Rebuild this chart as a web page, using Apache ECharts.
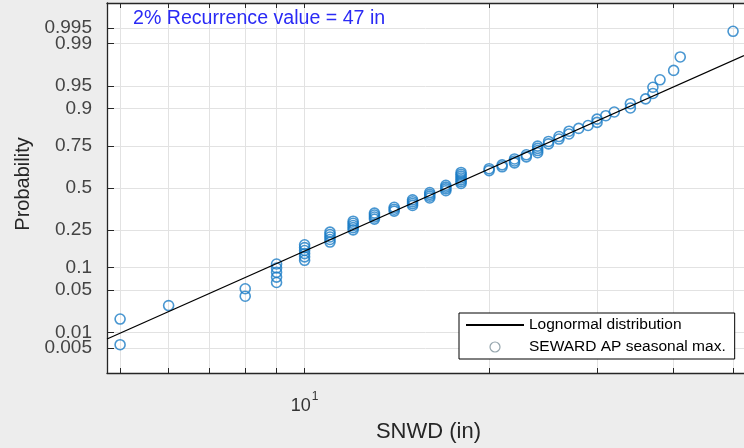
<!DOCTYPE html>
<html>
<head>
<meta charset="utf-8">
<script src="https://cdn.jsdelivr.net/npm/echarts@6/dist/echarts.min.js"></script>
<style>html,body{margin:0;padding:0;background:#ededed;}#c{width:744px;height:448px;}</style>
</head>
<body>
<div id="c"></div>
<script>
// ---- data ----
const snwd = [5,5,6,8,8, 9,9,9,9,9, 10,10,10,10,10,10, 11,11,11,11,11, 12,12,12,12,12,
  13,13,13,13, 14,14,14, 15,15,15,15, 16,16,16,16, 17,17,17,17, 18,18,18,18,18,18,18,
  20,20, 21,21, 22,22,22, 23,23, 24,24,24,24, 25,25, 26,26, 27,27, 28, 29, 30,30, 31, 32,
  34,34, 36, 37,37, 38, 40, 41, 50];
const prob = [0.0058,0.0174,0.0291,0.0407,0.0523,0.0640,0.0756,0.0872,0.0988,0.1105,
  0.1221,0.1337,0.1453,0.1570,0.1686,0.1802,0.1919,0.2035,0.2151,0.2267,
  0.2384,0.2500,0.2616,0.2733,0.2849,0.2965,0.3081,0.3198,0.3314,0.3430,
  0.3547,0.3663,0.3779,0.3895,0.4012,0.4128,0.4244,0.4360,0.4477,0.4593,
  0.4709,0.4826,0.4942,0.5058,0.5174,0.5291,0.5407,0.5523,0.5640,0.5756,
  0.5872,0.5988,0.6105,0.6221,0.6337,0.6453,0.6570,0.6686,0.6802,0.6919,
  0.7035,0.7151,0.7267,0.7384,0.7500,0.7616,0.7733,0.7849,0.7965,0.8081,
  0.8198,0.8314,0.8430,0.8547,0.8663,0.8779,0.8895,0.9012,0.9128,0.9244,
  0.9360,0.9477,0.9593,0.9709,0.9826,0.9942];
const fitX = [4.76, 52.1];
const fitP = [0.0075, 0.9835];
const probTicks = [0.005,0.01,0.05,0.1,0.25,0.5,0.75,0.9,0.95,0.99,0.995];
const probTickLabels = ['0.005','0.01','0.05','0.1','0.25','0.5','0.75','0.9','0.95','0.99','0.995'];
const probLabelsSetA = [0.005,0.05,0.1,0.25,0.5,0.75,0.9,0.95,0.995];
const probLabelsSetB = [0.01,0.99];
const xTicks = [5,6,7,8,9,10,20,30,40,50];
const xLabelTicks = [10];
const xRange = [4.76, 52.1];
const zRange = [-2.98, 2.98];
const titleText = '2% Recurrence value = 47 in';
const xName = 'SNWD (in)';
const yName = 'Probability';
const lineName = 'Lognormal distribution';
const dotName = 'SEWARD AP seasonal max.';

// ---- probability-scale transform (inverse normal CDF) ----
function norminv(p){
  const a=[-3.969683028665376e+01,2.209460984245205e+02,-2.759285104469687e+02,1.383577518672690e+02,-3.066479806614716e+01,2.506628277459239e+00];
  const b=[-5.447609879822406e+01,1.615858368580409e+02,-1.556989798598866e+02,6.680131188771972e+01,-1.328068155288572e+01];
  const c=[-7.784894002430293e-03,-3.223964580411365e-01,-2.400758277161838e+00,-2.549732539343734e+00,4.374664141464968e+00,2.938163982698783e+00];
  const d=[7.784695709041462e-03,3.224671290700398e-01,2.445134137142996e+00,3.754408661907416e+00];
  const pl=0.02425, ph=1-pl; let q,r;
  if(p<pl){q=Math.sqrt(-2*Math.log(p));return (((((c[0]*q+c[1])*q+c[2])*q+c[3])*q+c[4])*q+c[5])/((((d[0]*q+d[1])*q+d[2])*q+d[3])*q+1);}
  if(p<=ph){q=p-0.5;r=q*q;return (((((a[0]*r+a[1])*r+a[2])*r+a[3])*r+a[4])*r+a[5])*q/(((((b[0]*r+b[1])*r+b[2])*r+b[3])*r+b[4])*r+1);}
  q=Math.sqrt(-2*Math.log(1-p));return -(((((c[0]*q+c[1])*q+c[2])*q+c[3])*q+c[4])*q+c[5])/((((d[0]*q+d[1])*q+d[2])*q+d[3])*q+1);
}
const lg = Math.log10;
const zTicks = probTicks.map(norminv);
function yLabel(v){
  let best=0, bd=1e9;
  zTicks.forEach((z,i)=>{const dd=Math.abs(z-v); if(dd<bd){bd=dd;best=i;}});
  return probTickLabels[best];
}

const axisColor = '#262626';
const yLabelStyle = {margin:15, formatter:yLabel, hideOverlap:false,
  color:'#444', fontSize:19, fontFamily:'Liberation Sans'};
const chart = echarts.init(document.getElementById('c'), null, {renderer:'canvas'});
chart.setOption({
  backgroundColor:'#ededed',
  animation:false,
  title:{text:titleText, left:133, top:9, padding:0,
    textStyle:{color:'#2a2af5', fontSize:19.6, fontWeight:'normal', fontFamily:'Liberation Sans'}},
  grid:{left:107, right:-5, top:3, bottom:75, show:true, backgroundColor:'#ffffff', borderWidth:0},
  legend:{
    orient:'vertical', left:459, top:313, padding:[4,9,4,6], itemGap:6,
    itemWidth:58, itemHeight:10, backgroundColor:'#ffffff', borderColor:'#000000', borderWidth:1,
    textStyle:{fontSize:15.5, color:'#000', fontFamily:'Liberation Sans', lineHeight:16},
    data:[{name:lineName, itemStyle:{color:'rgba(0,0,0,0)', borderColor:'rgba(0,0,0,0)', borderWidth:0}},
          {name:dotName, itemStyle:{color:'rgba(0,0,0,0)', borderColor:'#7a8f99', borderWidth:1.2}}]
  },
  xAxis:[{
    type:'value', min:lg(xRange[0]), max:lg(xRange[1]),
    name:xName, nameLocation:'middle', nameGap:48,
    nameTextStyle:{fontSize:22, color:'#262626', fontFamily:'Liberation Sans', padding:[0,0,0,6]},
    axisLine:{show:true, onZero:false, lineStyle:{color:axisColor, width:1.3}},
    axisTick:{show:true, inside:true, length:5, customValues:xTicks.map(lg), lineStyle:{color:axisColor}},
    axisLabel:{show:true, customValues:xLabelTicks.map(lg), margin:18, hideOverlap:false,
      formatter:(v)=>'{b|10}{s|' + Math.round(v) + '}',
      rich:{b:{fontSize:18, color:'#333', fontFamily:'Liberation Sans', verticalAlign:'bottom'},
            s:{fontSize:12, color:'#333', fontFamily:'Liberation Sans', verticalAlign:'bottom', padding:[0,0,12,1]}}},
    splitLine:{show:true, lineStyle:{color:'#e2e2e2', width:1}}
  },{
    type:'value', position:'top', min:lg(xRange[0]), max:lg(xRange[1]),
    axisLine:{show:true, onZero:false, lineStyle:{color:axisColor, width:1.3}},
    axisTick:{show:true, inside:true, length:5, customValues:xTicks.map(lg), lineStyle:{color:axisColor}},
    axisLabel:{show:false}, splitLine:{show:false}
  }],
  yAxis:[{
    type:'value', min:zRange[0], max:zRange[1], position:'left',
    name:yName, nameLocation:'middle', nameGap:70,
    nameTextStyle:{fontSize:20, color:'#262626', fontFamily:'Liberation Sans', padding:[0,0,0,8]},
    axisLine:{show:true, onZero:false, lineStyle:{color:axisColor, width:1.3}},
    axisTick:{show:true, inside:true, length:7, customValues:zTicks, lineStyle:{color:axisColor}},
    axisLabel:Object.assign({customValues:probLabelsSetA.map(norminv)}, yLabelStyle),
    splitLine:{show:true, lineStyle:{color:'#e2e2e2', width:1}}
  },{
    type:'value', min:zRange[0], max:zRange[1], position:'left', offset:0,
    axisLine:{show:false, onZero:false},
    axisTick:{show:false},
    axisLabel:Object.assign({customValues:probLabelsSetB.map(norminv)}, yLabelStyle),
    splitLine:{show:false}
  }],
  series:[{
    name:lineName, type:'line', xAxisIndex:0, yAxisIndex:0,
    data: fitX.map((x,i)=>[lg(x), norminv(fitP[i])]),
    showSymbol:false, symbol:'none', lineStyle:{color:'#000', width:1.3}, itemStyle:{color:'#000'},
    z:3
  },{
    name:dotName, type:'scatter', xAxisIndex:0, yAxisIndex:0,
    data: snwd.map((x,i)=>[lg(x), norminv(prob[i])]),
    symbol:'circle', symbolSize:10,
    itemStyle:{color:'rgba(0,0,0,0)', borderColor:'#1a7cc6', borderWidth:1.6},
    z:2
  }]
});
</script>
</body>
</html>
